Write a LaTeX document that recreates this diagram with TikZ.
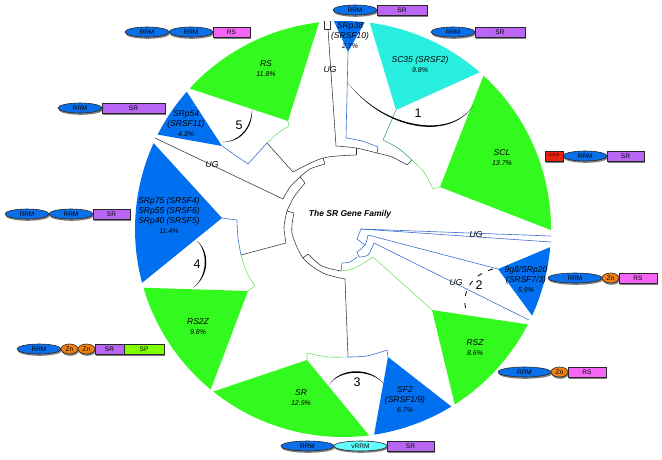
\documentclass[tikz,border=0pt]{standalone}
\usepackage{fontspec}
\setmainfont{Liberation Sans}
\usetikzlibrary{calc,positioning,shapes.geometric,shadows}

\definecolor{famgreen}{HTML}{33FA1E}
\definecolor{famblue}{HTML}{0070F0}
\definecolor{famcyan}{HTML}{29EFE0}
\definecolor{rrmblue}{HTML}{0A6FE8}
\definecolor{vrrmcyan}{HTML}{66FFFF}
\definecolor{srpurple}{HTML}{B966F5}
\definecolor{rspink}{HTML}{F566F5}
\definecolor{spgreen}{HTML}{80FF00}
\definecolor{znorange}{HTML}{EF7F10}
\definecolor{plusred}{HTML}{E8230F}
\definecolor{branchblue}{HTML}{3B6FD0}
\definecolor{branchgreen}{HTML}{70E468}
\definecolor{branchteal}{HTML}{3A9AA0}

\tikzset{
    dombox/.style={draw=black!85, line width=0.6pt, inner sep=0pt, outer sep=0pt, minimum height=10pt,
        text=black, font=\fontsize{6.5}{7}\selectfont,
        drop shadow={shadow xshift=0.8pt, shadow yshift=-1.8pt, fill=black, opacity=0.5}},
    rrm/.style={dombox, ellipse, fill=rrmblue, minimum width=44pt},
    vrrm/.style={dombox, ellipse, fill=vrrmcyan, minimum width=53pt},
    zn/.style={dombox, ellipse, fill=znorange, minimum width=17pt},
    srbox/.style={dombox, rectangle, fill=srpurple},
    rsbox/.style={dombox, rectangle, fill=rspink},
    spbox/.style={dombox, rectangle, fill=spgreen},
    plusbox/.style={dombox, rectangle, fill=plusred},
    famlabel/.style={align=center, font=\fontsize{8.5}{10}\selectfont\itshape},
    ug/.style={font=\fontsize{8.5}{10}\selectfont\itshape},
    cladenum/.style={font=\fontsize{12.5}{14}\selectfont},
    branch/.style={draw=black!80, line width=0.55pt, line join=round},
    blueb/.style={draw=branchblue, line width=0.6pt, line join=round},
    greenb/.style={draw=branchgreen, line width=0.6pt, line join=round},
    tealb/.style={draw=branchteal, line width=0.6pt, line join=round},
}
\newcommand{\pct}[1]{{\fontsize{7}{10}\selectfont #1}}

\begin{document}
\begin{tikzpicture}[x=1pt, y=1pt, yscale=-1]
    \useasboundingbox (0,0) rectangle (662,459);
    \def\ringX{343}
    \def\ringY{229}
    \def\ringR{208}

    % --- family fans: apex / start angle / end angle / colour ---
    \foreach \apex/\angA/\angB/\col in {
        {(348,52)}/267.5/276/famblue, {(396,110)}/277.4/311.1/famcyan,
        {(440,187)}/312.5/360.3/famgreen, {(498,269)}/5/24.6/famblue,
        {(432,310)}/27.3/57.5/famgreen, {(388,357)}/58.6/81.4/famblue,
        {(307,360)}/82.8/128.6/famgreen, {(248,291)}/129.5/163.6/famgreen,
        {(222,218)}/165/204.4/famblue, {(222,146)}/207/221.3/famblue,
        {(288,121)}/222.5/263.4/famgreen}
    {
        \fill[\col] \apex -- ($(\ringX,\ringY)+(\angA:\ringR)$) arc (\angA:\angB:\ringR) -- cycle;
    }

    % --- tree, top ---
    \draw[branch] (267,143) -- (293,172);
    \draw[branch] plot[smooth] coordinates {(293,172) (323,158) (356,155)};
    \draw[branch] (323,158) -- (325,164);
    \draw[branch] (356,148) -- (356,155);
    \draw[branch] plot[smooth] coordinates {(336,146) (356,148) (377,153)};
    \draw[branch] (378,147) -- (377,153);
    \draw[branch] plot[smooth] coordinates {(377,153) (392,157) (407,165)} -- (412,160);
    \draw[branch] (324,21) -- (324,29) -- (330,29) -- (330,21);
    \draw[branch] (328,29) -- (336,146);
    \draw[blueb] (348,52) -- (346,138);
    \draw[blueb] plot[smooth] coordinates {(346,138) (362,141) (378,147)};
    \draw[tealb] (396,110) -- (383,140);
    \draw[tealb] plot[smooth] coordinates {(383,140) (398,148) (412,160)};
    \draw[greenb] plot[smooth] coordinates {(412,160) (424,172) (433,189)} -- (440,187);

    % --- tree, left ---
    \draw[branch] plot[smooth] coordinates {(325,164) (310,169) (300,177)};
    \draw[branch] (300,177) -- (305,183);
    \draw[branch] plot[smooth] coordinates {(300,177) (290,187) (283,199)} -- (155,138);
    \draw[branch] plot[smooth] coordinates {(305,183) (294,197) (287,211)} -- (294,213);
    \draw[branch] plot[smooth] coordinates {(287,211) (284,227) (286,243)} -- (241,255);
    \draw[branch] plot[smooth] coordinates {(294,213) (292,233) (303,258) (323,273) (345,279)};
    \draw[branch] (303,258) -- (308,254);
    \draw[branch] plot[smooth] coordinates {(308,254) (322,266) (341,271)};
    \draw[branch] (345,279) -- (348,357);
    \draw[blueb] (222,146) -- (248,164) -- (267,143);
    \draw[greenb] plot[smooth] coordinates {(267,143) (278,133) (289,126)} -- (288,121);
    \draw[blueb] (222,218) -- (237,220);
    \draw[blueb] plot[smooth] coordinates {(237,220) (238,238) (241,255)};
    \draw[greenb] plot[smooth] coordinates {(241,255) (247,273) (255,286)} -- (248,291);

    % --- tree, right and bottom ---
    \draw[blueb] (341,271) -- (342,263);
    \draw[blueb] plot[smooth] coordinates {(342,263) (350,262) (357,257)};
    \draw[greenb] plot[smooth] coordinates {(341,271) (355,268) (373,257)} -- (432,310);
    \draw[blueb] (357,252) -- (359,257);
    \draw[blueb] plot[smooth] coordinates {(359,257) (368,255) (374,243)} -- (529,320);
    \draw[blueb] plot[smooth] coordinates {(357,252) (365,245) (368,235)} -- (498,269);
    \draw[blueb] (365,245) -- (357,239);
    \draw[blueb] (357,239) -- (361,229) -- (551,236);
    \draw[blueb] (361,229) -- (551,242);
    \draw[greenb] plot[smooth] coordinates {(348,357) (328,357) (307,353)} -- (307,360);
    \draw[blueb] plot[smooth] coordinates {(348,357) (367,356) (387,350)} -- (388,357);

    % --- clade brackets ---
    \fill (348,83) .. controls (385,131) and (450,141) .. (473,106)
        .. controls (450,139) and (385,129) .. (348,83);
    \fill (252,110) .. controls (253,128) and (240,143) .. (222,142)
        .. controls (239,142) and (251,128) .. (252,110);
    \fill (197,241) .. controls (209,250) and (211,275) .. (193,288)
        .. controls (209,275) and (207,250) .. (197,241);
    \fill (329,385) .. controls (340,367) and (370,367) .. (383,383)
        .. controls (370,369) and (340,369) .. (329,385);
    \draw[line width=0.8pt, dash pattern=on 5pt off 7pt] (493,269) .. controls (470,275) and (460,295) .. (467,313);
    \node[cladenum] (numA) at (418,113) {1};
    \node[cladenum] (numB) at (479,285) {2};
    \node[cladenum] (numC) at (357,382) {3};
    \node[cladenum] (numD) at (197,264) {4};
    \node[cladenum] (numE) at (239,125) {5};
    \node[ug] (ugTop) at (330,70) {UG};
    \node[ug] (ugLeft) at (212,165) {UG};
    \node[ug] (ugRight) at (476,235) {UG};
    \node[ug] (ugLow) at (456,283) {UG};

    % --- family names ---
    \node[font=\fontsize{8.5}{10}\selectfont\bfseries\itshape] (title) at (350,214) {The SR Gene Family};
    \node[famlabel] (srpA) at (350,36) {SRp38\\(SRSF10)\\\pct{2.7\%}};
    \node[famlabel] (scB) at (420,64) {SC35 (SRSF2)\\\pct{9.8\%}};
    \node[famlabel] (sclF) at (502,158) {SCL\\\pct{13.7\%}};
    \node[famlabel] (ninegF) at (526,279) {9g8/SRp20\\(SRSF7/3)\\\pct{5.9\%}};
    \node[famlabel] (rszF) at (475,348) {RSZ\\\pct{8.6\%}};
    \node[famlabel] (sfF) at (405,400) {SF2\\(SRSF1/9)\\\pct{6.7\%}};
    \node[famlabel] (srF) at (301,398) {SR\\\pct{12.9\%}};
    \node[famlabel] (rstzF) at (198,327) {RS2Z\\\pct{9.8\%}};
    \node[famlabel] (srpC) at (169,215) {SRp75 (SRSF4)\\SRp55 (SRSF6)\\SRp40 (SRSF5)\\\pct{11.4\%}};
    \node[famlabel] (srpD) at (186,124) {SRp54\\(SRSF11)\\\pct{4.3\%}};
    \node[famlabel] (rsF) at (266,69) {RS\\\pct{11.8\%}};

    % --- domain rows ---
    \node[rrm, anchor=west] (aRrm) at (333,10) {RRM};
    \node[srbox, minimum width=50pt, right=0pt of aRrm] (aSr) {SR};

    \node[rrm, anchor=west] (bRrm) at (431,32) {RRM};
    \node[srbox, minimum width=50pt, right=0pt of bRrm] (bSr) {SR};

    \node[rrm, anchor=west] (cRrm) at (125,32) {RRM};
    \node[rrm, right=0pt of cRrm] (cRrmB) {RRM};
    \node[rsbox, minimum width=37pt, right=0pt of cRrmB] (cRs) {RS};

    \node[rrm, anchor=west] (dRrm) at (58,108) {RRM};
    \node[srbox, minimum width=63pt, right=0pt of dRrm] (dSr) {SR};

    \node[rrm, anchor=west] (eRrm) at (5,214) {RRM};
    \node[rrm, right=0pt of eRrm] (eRrmB) {RRM};
    \node[srbox, minimum width=37pt, right=0pt of eRrmB] (eSr) {SR};

    \node[rrm, anchor=west] (fRrm) at (17,349) {RRM};
    \node[zn, right=0pt of fRrm] (fZn) {Zn};
    \node[zn, right=0pt of fZn] (fZnB) {Zn};
    \node[srbox, minimum width=29pt, right=0pt of fZnB] (fSr) {SR};
    \node[spbox, minimum width=40pt, right=0pt of fSr] (fSp) {SP};

    \node[rrm, minimum width=53pt, anchor=west] (gRrm) at (281,446) {RRM};
    \node[vrrm, right=0pt of gRrm] (gVrrm) {vRRM};
    \node[srbox, minimum width=47pt, right=0pt of gVrrm] (gSr) {SR};

    \node[rrm, minimum width=53pt, anchor=west] (hRrm) at (498,372) {RRM};
    \node[zn, right=0pt of hRrm] (hZn) {Zn};
    \node[rsbox, minimum width=38pt, right=0pt of hZn] (hRs) {RS};

    \node[rrm, minimum width=54pt, anchor=west] (iRrm) at (548,278) {RRM};
    \node[zn, right=0pt of iRrm] (iZn) {Zn};
    \node[rsbox, minimum width=38pt, right=0pt of iZn] (iRs) {RS};

    \node[plusbox, minimum width=18pt, anchor=west] (jPlus) at (545,156) {+++};
    \node[rrm, right=0pt of jPlus] (jRrm) {RRM};
    \node[srbox, minimum width=37pt, right=0pt of jRrm] (jSr) {SR};
\end{tikzpicture}
\end{document}
